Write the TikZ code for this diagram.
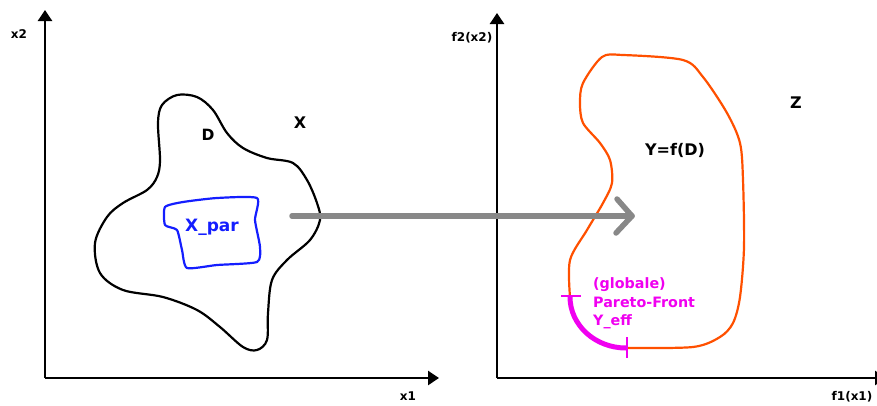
\documentclass[tikz,border=0pt]{standalone}
\usepackage{fontspec}
\setmainfont{DejaVu Sans}
\usetikzlibrary{arrows.meta}

\definecolor{imageorange}{RGB}{255,80,0}
\definecolor{parblue}{RGB}{20,30,255}
\definecolor{frontmagenta}{RGB}{240,0,240}
\definecolor{mapgray}{RGB}{136,136,136}

\begin{document}
\begin{tikzpicture}[x=1pt,y=-1pt,
  axis/.style={line width=2.5pt,-{Triangle[length=11pt,width=14pt]}},
  lbl/.style={inner sep=0pt,anchor=base,font=\bfseries\fontsize{#1}{#1}\selectfont},
  lbl/.default=14,
  outline/.style={line width=2.2pt,line join=round},
  fronttext/.style={inner sep=0pt,anchor=base west,text=frontmagenta,
                    font=\bfseries\fontsize{14.3}{18}\selectfont},
  mapping/.style={mapgray,line width=5.5pt,line cap=round,line join=round}
]
\useasboundingbox (0,0) rectangle (877,405);

% --- decision space axes
\coordinate (o1) at (45,378);
\coordinate (x1end) at (439,378);
\coordinate (x2end) at (45,10);
\draw[axis] (o1) -- (x1end);
\draw[axis] (o1) -- (x2end);
\node[lbl=12] (lx2) at (19,38) {x2};
\node[lbl=12] (lx1) at (408,400) {x1};

% --- objective space axes
\coordinate (o2) at (497,378);
\coordinate (f1end) at (886,378);
\coordinate (f2end) at (497,13);
\draw[axis] (o2) -- (f1end);
\draw[axis] (o2) -- (f2end);
\node[lbl=12] (lf2) at (472,41) {f2(x2)};
\node[lbl=12] (lf1) at (852,400) {f1(x1)};

% --- feasible set D
\draw[outline,black] plot[smooth cycle,tension=0.55] coordinates {
  (177,95) (162,105) (158,123) (160,160) (157,177) (147,190) (123,203)
  (107,217) (95,243) (100,273) (123,290) (163,297) (197,310) (220,327)
  (243,347) (257,350) (267,340) (268,313) (272,280) (287,260) (310,240)
  (320,220) (317,203) (307,180) (293,163) (267,158) (243,148) (227,133)
  (213,110) (197,97)};
\node[lbl=15.5] (lD) at (208,140) {D};
\node[lbl=16] (lX) at (300,128) {X};

% --- subset X_par
\draw[outline,parblue] plot[smooth cycle,tension=0.35] coordinates {
  (165,207) (183,202) (217,198) (257,198) (255,220) (260,247) (257,262)
  (217,265) (187,268) (182,250) (177,230) (165,225)};
\node[lbl=17,text=parblue] (lXpar) at (212,231) {X\_par};

% --- image set Y = f(D)
\draw[outline,imageorange] plot[smooth,tension=0.5] coordinates {
  (627,348) (693,347) (720,337) (733,323) (740,297) (744,247) (743,180)
  (740,143) (727,113) (703,77) (683,60) (623,55) (602,57) (583,83)
  (580,103) (583,123) (600,143) (610,160) (612,183) (603,203) (587,230)
  (570,260) (570,297)};
\node[lbl=16] (lY) at (675,155) {Y=f(D)};
\node[lbl=16] (lZ) at (796,108) {Z};

% --- Pareto front on the lower left boundary
\coordinate (pf1) at (570,297);
\coordinate (pf2) at (626,348);
\draw[frontmagenta,line width=5pt] (pf1) .. controls (570,325) and (595,348) .. (pf2);
\draw[frontmagenta,line width=2pt] (561,296) -- (581,296);
\draw[frontmagenta,line width=2pt] (627,337) -- (627,358);
\node[fronttext] (front1) at (593,288) {(globale)};
\node[fronttext] (front2) at (593,307) {Pareto-Front};
\node[fronttext] (front3) at (593,325) {Y\_eff};

% --- mapping f : X -> Z
\coordinate (mapfrom) at (292,216);
\coordinate (mapto) at (632,216);
\draw[mapping] (mapfrom) -- (mapto);
\draw[mapping] (617,199) -- (mapto) -- (616,233);
\end{tikzpicture}
\end{document}
